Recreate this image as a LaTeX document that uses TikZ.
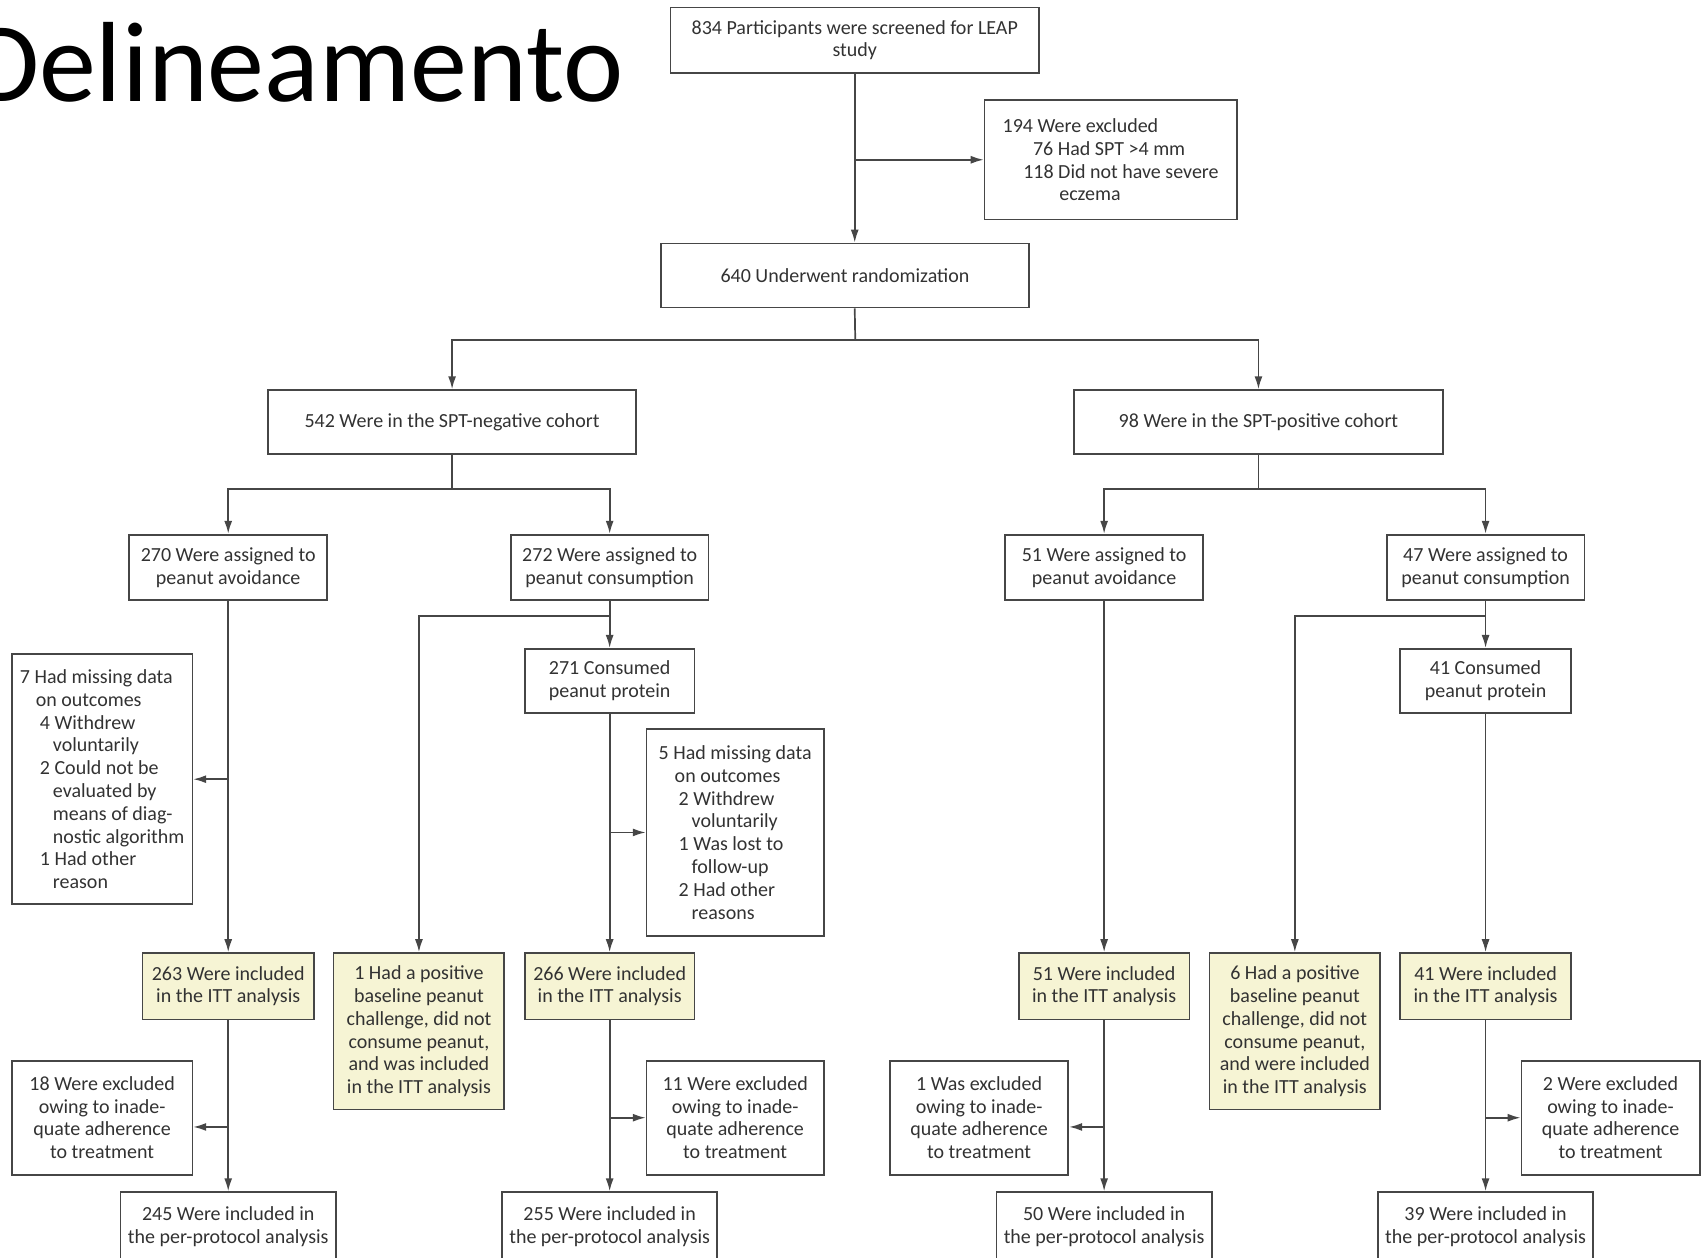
\documentclass[tikz,border=0pt]{standalone}
\usepackage{fontspec}
\setmainfont{Carlito}
\usetikzlibrary{arrows.meta,positioning,calc}
\definecolor{boxline}{RGB}{70,70,70}
\definecolor{boxtext}{RGB}{50,50,50}
\definecolor{ittfill}{RGB}{246,244,212}
\newcommand{\pxu}{0.5434pt}
\newcommand{\indA}{\hspace*{8pt}}
\newcommand{\indB}{\hspace*{10pt}}
\newcommand{\indC}{\hspace*{16.5pt}}
\tikzset{%
  % boxes
  box/.style={draw=boxline, line width=0.85pt, align=center, inner sep=0pt,
    text=boxtext, font=\fontsize{10}{11.4}\selectfont},
  listbox/.style={box, align=left},
  itt/.style={box, fill=ittfill},
  boxsize/.style 2 args={minimum width=#1*\pxu, minimum height=#2*\pxu},
  % edge styles
  rel/.style={-{Latex[length=6.5pt,width=4pt]}, draw=boxline, line width=0.85pt},
  link/.style={draw=boxline, line width=0.85pt},
}

\begin{document}
\begin{tikzpicture}[x=\pxu, y=-\pxu]
  \useasboundingbox (0,0) rectangle (1568,1157);

  % Title
  \node[anchor=base east, font=\fontsize{57}{60}\selectfont] (title) at (580,93) {Delineamento};

  % Screening and randomization
  \node[box, boxsize={339}{60}] (screen) at (786.5,37) {834 Participants were screened for LEAP\\study};
  \node[listbox, boxsize={232}{110}] (excl) at (1022,147) {194 Were excluded\\
    \hspace*{15.2pt}76 Had SPT >4 mm\\
    \hspace*{10.3pt}118 Did not have severe\\
    \hspace*{28.3pt}eczema};
  \node[box, boxsize={339}{59}] (rand) at (777.5,253.5) {640 Underwent randomization};

  % Cohorts
  \node[box, boxsize={339}{59}] (neg) at (416,388.5) {542 Were in the SPT-negative cohort};
  \node[box, boxsize={339}{59}] (pos) at (1158,388.5) {98 Were in the SPT-positive cohort};

  % Assignment
  \node[box, boxsize={182}{60}] (negavoid) at (210,522) {270 Were assigned to\\peanut avoidance};
  \node[box, boxsize={182}{60}] (negcons) at (561,522) {272 Were assigned to\\peanut consumption};
  \node[box, boxsize={182}{60}] (posavoid) at (1016,522) {51 Were assigned to\\peanut avoidance};
  \node[box, boxsize={182}{60}] (poscons) at (1367,522) {47 Were assigned to\\peanut consumption};

  % Consumption and missing data
  \node[box, boxsize={156}{59}] (negprot) at (561,626.5) {271 Consumed\\peanut protein};
  \node[box, boxsize={157}{59}] (posprot) at (1367,626.5) {41 Consumed\\peanut protein};
  \node[listbox, boxsize={166}{230}] (negmiss) at (94,717) {7 Had missing data\\
    \indA on outcomes\\
    \indB 4 Withdrew\\
    \indC voluntarily\\
    \indB 2 Could not be\\
    \indC evaluated by\\
    \indC means of diag-\\
    \indC nostic algorithm\\
    \indB 1 Had other\\
    \indC reason};
  \node[listbox, boxsize={163}{190}] (consmiss) at (676.5,766) {5 Had missing data\\
    \indA on outcomes\\
    \indB 2 Withdrew\\
    \indC voluntarily\\
    \indB 1 Was lost to\\
    \indC follow-up\\
    \indB 2 Had other\\
    \indC reasons};

  % ITT analysis
  \node[itt, boxsize={158}{61}] (negavoiditt) at (210,907.5) {263 Were included\\in the ITT analysis};
  \node[itt, boxsize={157}{144}] (negposbase) at (385.5,949) {1 Had a positive\\baseline peanut\\challenge, did not\\consume peanut,\\and was included\\in the ITT analysis};
  \node[itt, boxsize={156}{61}] (negconsitt) at (561,907.5) {266 Were included\\in the ITT analysis};
  \node[itt, boxsize={157}{61}] (posavoiditt) at (1016,907.5) {51 Were included\\in the ITT analysis};
  \node[itt, boxsize={157}{144}] (posposbase) at (1191.5,949) {6 Had a positive\\baseline peanut\\challenge, did not\\consume peanut,\\and were included\\in the ITT analysis};
  \node[itt, boxsize={157}{61}] (posconsitt) at (1367,907.5) {41 Were included\\in the ITT analysis};

  % Adherence exclusions
  \node[box, boxsize={166}{105}] (negavoidex) at (94,1028.5) {18 Were excluded\\owing to inade-\\quate adherence\\to treatment};
  \node[box, boxsize={163}{105}] (negconsex) at (676.5,1028.5) {11 Were excluded\\owing to inade-\\quate adherence\\to treatment};
  \node[box, boxsize={164}{105}] (posavoidex) at (901,1028.5) {1 Was excluded\\owing to inade-\\quate adherence\\to treatment};
  \node[box, boxsize={164}{105}] (posconsex) at (1482,1028.5) {2 Were excluded\\owing to inade-\\quate adherence\\to treatment};

  % Per-protocol analysis
  \node[box, boxsize={198}{64}] (negavoidpp) at (210,1129) {245 Were included in\\the per-protocol analysis};
  \node[box, boxsize={198}{64}] (negconspp) at (561,1129) {255 Were included in\\the per-protocol analysis};
  \node[box, boxsize={198}{64}] (posavoidpp) at (1016,1129) {50 Were included in\\the per-protocol analysis};
  \node[box, boxsize={198}{64}] (posconspp) at (1367,1129) {39 Were included in\\the per-protocol analysis};

  % Links: screening
  \draw[rel] (screen.south) -- (screen.south |- rand.north);
  \draw[rel] (screen.south |- excl.west) -- (excl.west);
  \coordinate (randfork) at (787,313);
  \draw[link] (screen.south |- rand.south) -- (randfork);
  \draw[rel] (randfork) -| (neg.north);
  \draw[rel] (randfork) -| (pos.north);

  % Links: cohorts
  \coordinate (negfork) at ($(neg.south)+(0,31)$);
  \coordinate (posfork) at ($(pos.south)+(0,31)$);
  \draw[link] (neg.south) -- (negfork);
  \draw[rel] (negfork) -| (negavoid.north);
  \draw[rel] (negfork) -| (negcons.north);
  \draw[link] (pos.south) -- (posfork);
  \draw[rel] (posfork) -| (posavoid.north);
  \draw[rel] (posfork) -| (poscons.north);

  % Links: SPT-negative arms
  \draw[rel] (negavoid.south) -- (negavoiditt.north);
  \draw[rel] (negavoid.south |- negmiss.east) -- (negmiss.east);
  \coordinate (negconsfork) at ($(negcons.south)+(0,14)$);
  \draw[rel] (negcons.south) -- (negprot.north);
  \draw[rel] (negconsfork) -| (negposbase.north);
  \draw[rel] (negprot.south) -- (negconsitt.north);
  \draw[rel] (negprot.south |- consmiss.west) -- (consmiss.west);
  \draw[rel] (negavoiditt.south) -- (negavoidpp.north);
  \coordinate (negavoidexfork) at (210,1037);
  \draw[rel] (negavoidexfork) -- (negavoidexfork -| negavoidex.east);
  \draw[rel] (negconsitt.south) -- (negconspp.north);
  \draw[rel] (negconsitt.south |- negconsex.west) -- (negconsex.west);

  % Links: SPT-positive arms
  \draw[rel] (posavoid.south) -- (posavoiditt.north);
  \coordinate (posconsfork) at ($(poscons.south)+(0,14)$);
  \draw[rel] (poscons.south) -- (posprot.north);
  \draw[rel] (posconsfork) -| (posposbase.north);
  \draw[rel] (posprot.south) -- (posconsitt.north);
  \draw[rel] (posavoiditt.south) -- (posavoidpp.north);
  \coordinate (posavoidexfork) at (1016,1037);
  \draw[rel] (posavoidexfork) -- (posavoidexfork -| posavoidex.east);
  \draw[rel] (posconsitt.south) -- (posconspp.north);
  \draw[rel] (posconsitt.south |- posconsex.west) -- (posconsex.west);
\end{tikzpicture}
\end{document}
